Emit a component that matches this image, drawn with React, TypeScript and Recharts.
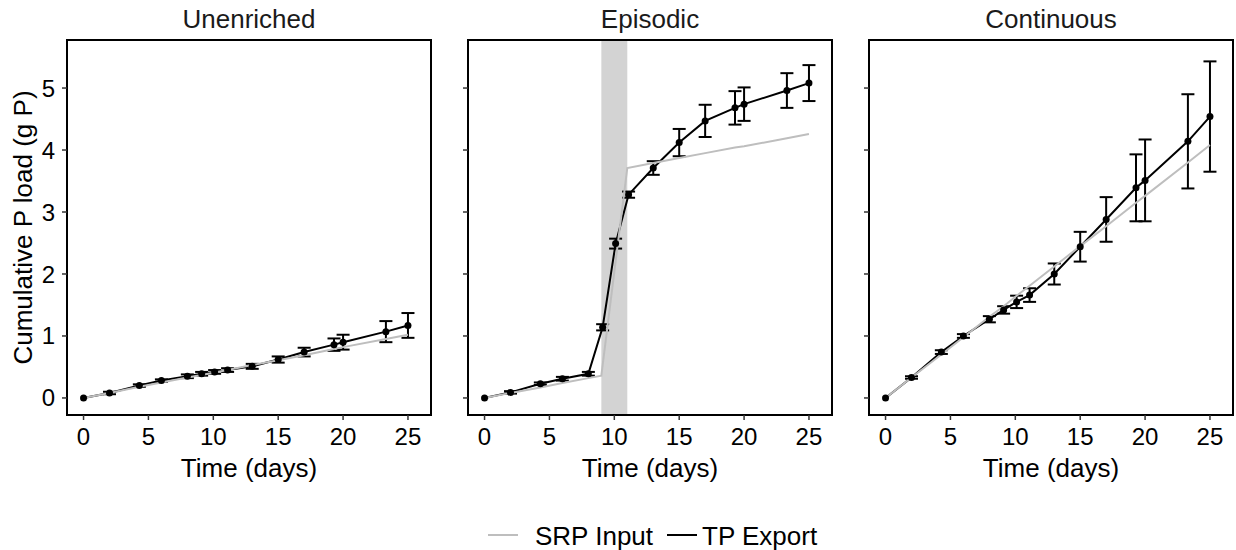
import React from 'react'
import { ComposedChart, ErrorBar, Legend, Line, ReferenceArea, XAxis, YAxis } from 'recharts'

// sampling days (TP export)
const days = [0, 2, 4.3, 6, 8, 9.1, 10.1, 11.1, 13, 15, 17, 19.3, 20, 23.3, 25]

const unenrichedTp = [0, 0.08, 0.2, 0.28, 0.35, 0.39, 0.42, 0.45, 0.51, 0.62, 0.74, 0.86, 0.9, 1.07, 1.17]
const unenrichedSe = [null, 0.02, 0.02, 0.02, 0.03, 0.03, 0.03, 0.03, 0.04, 0.05, 0.07, 0.1, 0.12, 0.17, 0.2]
const unenrichedSrp = [0, 0.08, 0.18, 0.25, 0.33, 0.37, 0.41, 0.45, 0.53, 0.61, 0.69, 0.79, 0.82, 0.95, 1.02]

const episodicTp = [0, 0.09, 0.23, 0.31, 0.39, 1.14, 2.49, 3.28, 3.71, 4.12, 4.47, 4.68, 4.74, 4.96, 5.08]
const episodicSe = [null, 0.02, 0.02, 0.03, 0.03, 0.05, 0.08, 0.05, 0.11, 0.22, 0.26, 0.27, 0.27, 0.28, 0.29]
const episodicSrpDays = [0, 2, 4.3, 6, 8, 9, 11, 13, 15, 17, 19.3, 20, 23.3, 25]
const episodicSrp = [0, 0.08, 0.17, 0.24, 0.32, 0.36, 3.71, 3.79, 3.87, 3.95, 4.04, 4.06, 4.19, 4.26]
const pulseWindow = [9, 11]

const continuousTp = [0, 0.33, 0.74, 1.0, 1.27, 1.42, 1.55, 1.66, 2.0, 2.44, 2.88, 3.39, 3.51, 4.14, 4.54]
const continuousSe = [null, 0.02, 0.03, 0.03, 0.05, 0.06, 0.1, 0.11, 0.17, 0.24, 0.36, 0.54, 0.66, 0.76, 0.89]
const continuousSrp = [0, 0.33, 0.7, 0.98, 1.31, 1.48, 1.65, 1.81, 2.12, 2.45, 2.77, 3.15, 3.26, 3.8, 4.08]

const X_TICKS = [0, 5, 10, 15, 20, 25]
const Y_TICKS = [0, 1, 2, 3, 4, 5]
const X_DOMAIN: [number, number] = [-1.275, 26.775]
const Y_DOMAIN: [number, number] = [-0.275, 5.775]

const LEGEND_ITEMS = [
  { name: 'SRP Input', color: '#bebebe' },
  { name: 'TP Export', color: '#000000' },
]

const toRows = (x: number[], y: number[], se?: (number | null)[]) =>
  x.map((d, i) => ({ day: d, value: y[i], se: se ? se[i] : null }))

interface PanelProps {
  title: string
  tp: { day: number; value: number; se: number | null }[]
  srp: { day: number; value: number; se: number | null }[]
  left: number
  width: number
  yAxisWidth: number
  marginRight: number
  yLabels?: boolean
  band?: number[]
  legend?: boolean
}

function LegendContent() {
  // positions inside the legend strip (chart starts at page x 440)
  const lineX = [48, 227]
  const textX = [95, 262]
  return (
    <svg width={392} height={60} style={{ display: 'block' }}>
      {LEGEND_ITEMS.map((item, i) => (
        <g key={item.name}>
          <line x1={lineX[i]} x2={lineX[i] + 30} y1={45} y2={45} stroke={item.color} strokeWidth={2} />
          <text x={textX[i]} y={55} fontSize={26} fill="#000">
            {item.name}
          </text>
        </g>
      ))}
    </svg>
  )
}

function Panel({ title, tp, srp, left, width, yAxisWidth, marginRight, yLabels, band, legend }: PanelProps) {
  return (
    <div style={{ position: 'absolute', left, top: 0 }}>
      <ComposedChart
        width={width}
        height={550}
        margin={{ top: 0, right: marginRight, bottom: legend ? 0 : 60, left: 0 }}
      >
        <XAxis
          xAxisId="top"
          orientation="top"
          type="number"
          dataKey="day"
          domain={X_DOMAIN}
          height={40}
          tick={false}
          tickLine={false}
          axisLine={false}
          label={{ value: title, position: 'insideBottom', offset: 12, fill: '#1a1a1a', fontSize: 26 }}
        />
        <XAxis
          type="number"
          dataKey="day"
          domain={X_DOMAIN}
          ticks={X_TICKS}
          height={75}
          axisLine={false}
          tickSize={5}
          tickMargin={8}
          tickLine={{ stroke: '#333', strokeWidth: 1.5 }}
          tick={{ fill: '#000', fontSize: 24 }}
          label={{ value: 'Time (days)', position: 'insideBottom', offset: 13, fill: '#000', fontSize: 26 }}
        />
        <YAxis
          type="number"
          domain={Y_DOMAIN}
          ticks={Y_TICKS}
          width={yAxisWidth}
          axisLine={false}
          tickSize={5}
          tickMargin={7}
          tickLine={{ stroke: '#333', strokeWidth: 1.5 }}
          tick={{ fill: '#000', fontSize: 24 }}
          tickFormatter={(v) => (yLabels ? String(v) : '')}
          label={
            yLabels
              ? {
                  value: 'Cumulative P load (g P)',
                  angle: -90,
                  position: 'insideLeft',
                  offset: 23,
                  fill: '#000',
                  fontSize: 26,
                  style: { textAnchor: 'middle' },
                }
              : undefined
          }
        />
        {band && <ReferenceArea x1={band[0]} x2={band[1]} fill="#d3d3d3" fillOpacity={1} stroke="none" />}
        <Line
          data={tp}
          dataKey="value"
          name="TP Export"
          stroke="#000"
          strokeWidth={2}
          dot={{ r: 3.5, fill: '#000', stroke: '#000', strokeWidth: 0 }}
          activeDot={false}
          isAnimationActive={false}
        >
          <ErrorBar dataKey="se" direction="y" width={6.5} stroke="#000" strokeWidth={2} />
        </Line>
        <Line
          data={srp}
          dataKey="value"
          name="SRP Input"
          stroke="#bebebe"
          strokeWidth={2}
          dot={false}
          activeDot={false}
          isAnimationActive={false}
        />
        <ReferenceArea
          x1={X_DOMAIN[0]}
          x2={X_DOMAIN[1]}
          y1={Y_DOMAIN[0]}
          y2={Y_DOMAIN[1]}
          fill="none"
          stroke="#000"
          strokeWidth={2}
        />
        {legend && <Legend verticalAlign="bottom" height={60} content={() => <LegendContent />} />}
      </ComposedChart>
    </div>
  )
}

export default function App() {
  return (
    <div
      style={{
        position: 'absolute',
        left: 0,
        top: 0,
        width: 1236,
        height: 550,
        background: '#fff',
        fontFamily: '"Liberation Sans", Arial, sans-serif',
      }}
    >
      <Panel
        title="Unenriched"
        tp={toRows(days, unenrichedTp, unenrichedSe)}
        srp={toRows(days, unenrichedSrp)}
        left={0}
        width={440}
        yAxisWidth={67}
        marginRight={9}
        yLabels
      />
      <Panel
        title="Episodic"
        tp={toRows(days, episodicTp, episodicSe)}
        srp={toRows(episodicSrpDays, episodicSrp)}
        left={440}
        width={400}
        yAxisWidth={28}
        marginRight={8}
        band={pulseWindow}
        legend
      />
      <Panel
        title="Continuous"
        tp={toRows(days, continuousTp, continuousSe)}
        srp={toRows(days, continuousSrp)}
        left={840}
        width={396}
        yAxisWidth={29}
        marginRight={3}
      />
    </div>
  )
}
